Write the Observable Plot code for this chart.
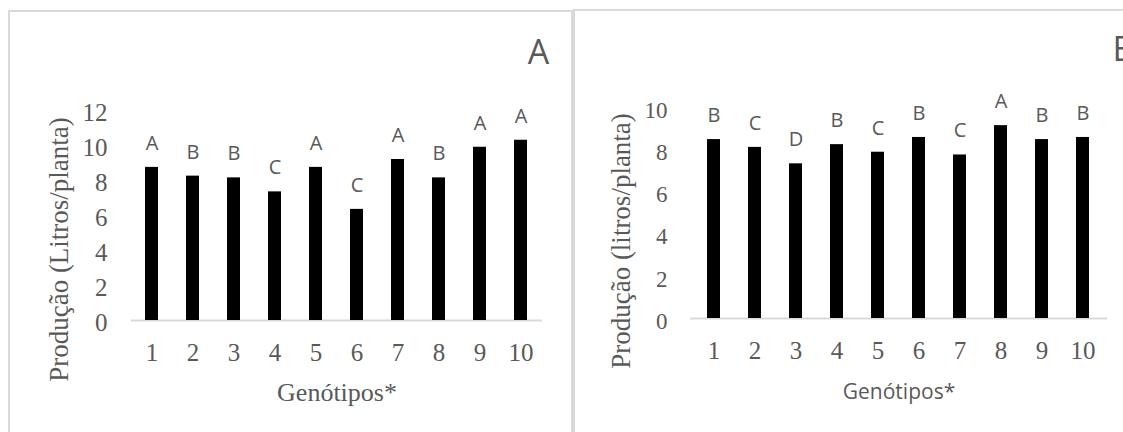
<!DOCTYPE html>
<html><head><meta charset="utf-8">
<script src="https://cdn.jsdelivr.net/npm/d3@7"></script>
<script src="https://cdn.jsdelivr.net/npm/@observablehq/plot@0.6"></script>
<style>
html,body{margin:0;padding:0;background:#fff;width:1123px;height:432px;overflow:hidden;position:relative}
.chart{position:absolute;top:0}
#ca{left:0}
#cb{left:575px}
.frame{position:absolute;box-sizing:border-box;border:2px solid #d9d9d9;pointer-events:none}
#fa{left:8px;top:10px;width:565px;height:450px}
#fb{left:573px;top:9px;width:600px;height:450px}
</style></head><body>
<div id="ca" class="chart"></div>
<div id="cb" class="chart"></div>
<div id="fa" class="frame"></div>
<div id="fb" class="frame"></div>
<script>
// ---- data ----
const genotipos = ["1","2","3","4","5","6","7","8","9","10"];
const producaoA = [8.75, 8.25, 8.15, 7.35, 8.75, 6.35, 9.2, 8.15, 9.9, 10.3];
const letrasA   = ["A","B","B","C","A","C","A","B","A","A"];
const producaoB = [8.48, 8.11, 7.33, 8.24, 7.88, 8.58, 7.75, 9.14, 8.48, 8.58];
const letrasB   = ["B","C","D","B","C","B","C","A","B","B"];
const ticksA = [0,2,4,6,8,10,12];
const ticksB = [0,2,4,6,8,10];
const tituloYA = "Produção (Litros/planta)";
const tituloYB = "Produção (litros/planta)";
const tituloX = "Genótipos*";
const painelA = "A";
const painelB = "B";

const serif = "'Liberation Serif', 'Times New Roman', serif";
const sans = "'Open Sans', sans-serif";
const grey = "#595959";

const dataA = genotipos.map((g,i)=>({g, v: producaoA[i], l: letrasA[i]}));
const dataB = genotipos.map((g,i)=>({g, v: producaoB[i], l: letrasB[i]}));

const chartA = Plot.plot({
  width: 573, height: 432,
  marginLeft: 131, marginRight: 31, marginTop: 110, marginBottom: 112,
  style: {background: "none", color: grey, overflow: "visible"},
  x: {domain: genotipos, paddingInner: 0.68, paddingOuter: 0.34, label: null},
  y: {domain: [0, 12], label: null},
  marks: [
    Plot.axisY({ticks: ticksA, tickSize: 0, tickPadding: 24, label: null, fontSize: 25, fontFamily: serif, fill: grey, dy: 2}),
    Plot.axisX({tickSize: 0, tickPadding: 23, label: null, fontSize: 25, fontFamily: serif, fill: grey}),
    Plot.ruleY([0], {stroke: "#d9d9d9", strokeWidth: 2}),
    Plot.barY(dataA, {x: "g", y: "v", fill: "black"}),
    Plot.text(dataA, {x: "g", y: "v", text: "l", dy: -24, lineAnchor: "middle", fontSize: 20, fontFamily: sans, fill: grey}),
    Plot.text([tituloYA], {frameAnchor: "left", dx: -72, dy: 34, rotate: -90, textAnchor: "middle", lineAnchor: "middle", fontSize: 27, fontFamily: serif, fill: grey}),
    Plot.text([tituloX], {frameAnchor: "bottom", dy: 72, textAnchor: "middle", lineAnchor: "middle", fontSize: 26, fontFamily: serif, fill: grey}),
    Plot.text([painelA], {frameAnchor: "top-right", dx: -4, dy: -57, textAnchor: "middle", lineAnchor: "middle", fontSize: 34, fontFamily: sans, fill: grey})
  ]
});
document.getElementById("ca").appendChild(chartA);

const chartB = Plot.plot({
  width: 548, height: 432,
  marginLeft: 115, marginRight: 16, marginTop: 107, marginBottom: 114,
  style: {background: "none", color: grey, overflow: "visible"},
  x: {domain: genotipos, paddingInner: 0.68, paddingOuter: 0.34, label: null},
  y: {domain: [0, 10], label: null},
  marks: [
    Plot.axisY({ticks: ticksB, tickSize: 0, tickPadding: 23, label: null, fontSize: 23, fontFamily: serif, fill: grey, dy: 3}),
    Plot.axisX({tickSize: 0, tickPadding: 23, label: null, fontSize: 25, fontFamily: serif, fill: grey}),
    Plot.ruleY([0], {stroke: "#d9d9d9", strokeWidth: 2}),
    Plot.barY(dataB, {x: "g", y: "v", fill: "black"}),
    Plot.text(dataB, {x: "g", y: "v", text: "l", dy: -24, lineAnchor: "middle", fontSize: 20, fontFamily: sans, fill: grey}),
    Plot.text([tituloYB], {frameAnchor: "left", dx: -69, dy: 28, rotate: -90, textAnchor: "middle", lineAnchor: "middle", fontSize: 27, fontFamily: serif, fill: grey}),
    Plot.text([tituloX], {frameAnchor: "bottom", dy: 74, textAnchor: "middle", lineAnchor: "middle", fontSize: 21, fontFamily: sans, fill: grey}),
    Plot.text([painelB], {frameAnchor: "top-right", dx: 5, dy: -57, textAnchor: "start", lineAnchor: "middle", fontSize: 34, fontFamily: sans, fill: grey})
  ]
});
document.getElementById("cb").appendChild(chartB);
</script>
</body></html>
